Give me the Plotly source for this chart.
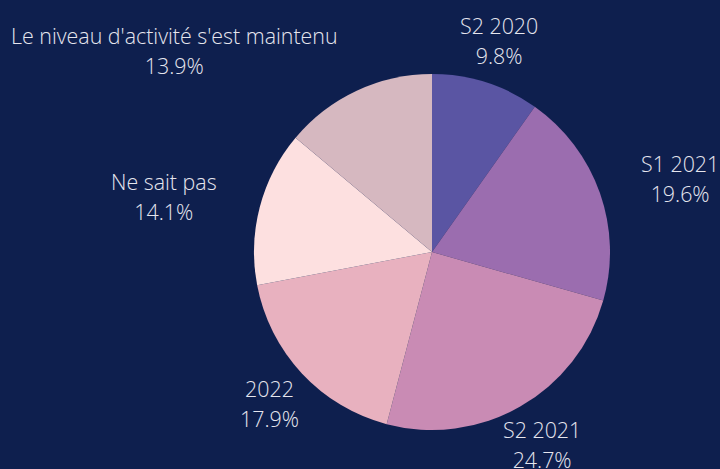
import math
import plotly.graph_objects as go

labels = ["S2 2020", "S1 2021", "S2 2021", "2022", "Ne sait pas",
          "Le niveau d'activité s'est maintenu"]
values = [9.8, 19.6, 24.7, 17.9, 14.1, 13.9]
colors = ["#5a55a3", "#9b6daf", "#c98bb4", "#e8b1bf", "#fde0e0", "#d6b8c0"]

W, H = 720, 469
cx, cy = 432, 252       # pie centre (px from top-left)
R = 178                 # pie radius (px)
R_LAB = 222             # radius of the label ring (px)
FS = 21.4               # glyph size
LINE_FS = 23            # sets line spacing (~30px)
TXT = "#e6e6ee"

# approximate Open Sans advance widths (units / 2048) for label fitting
ADV = {" ": 532, "a": 1139, "c": 975, "d": 1255, "e": 1149, "i": 518, "l": 518,
       "m": 1905, "n": 1257, "p": 1255, "s": 977, "t": 723, "u": 1257,
       "v": 1051, "é": 1149, "'": 403, "S": 1122, "L": 1014, "N": 1577,
       ".": 545, "%": 1716}


def text_w(s):
    return sum(ADV.get(ch, 1171) for ch in s) / 2048 * FS * 0.96


def dom(r):
    yb = H - cy
    return dict(x=[(cx - r) / W, (cx + r) / W], y=[(yb - r) / H, (yb + r) / H])


def box_hits_pie(x0, x1, y0, y1):
    nx = min(max(cx, x0), x1)
    ny = min(max(cy, y0), y1)
    return math.hypot(nx - cx, ny - cy) < R


fig = go.Figure()
fig.add_trace(go.Pie(
    labels=labels, values=values, sort=False, direction="clockwise", rotation=0,
    marker=dict(colors=colors, line=dict(width=0)),
    textinfo="none", domain=dom(R), showlegend=False, hoverinfo="label+percent",
))

total = sum(values)
cum = 0.0
annotations = []
for lab, v in zip(labels, values):
    pct = v / total * 100
    mid = (cum + v / 2) / total * 2 * math.pi
    cum += v
    s, c = math.sin(mid), math.cos(mid)
    px, py = cx + s * R_LAB, cy - c * R_LAB
    pct_txt = f"{pct:.1f}%"
    w = max(text_w(lab), text_w(pct_txt))
    hh = 26
    if abs(s) > 0.8 or box_hits_pie(px - w / 2, px + w / 2, py - hh, py + hh):
        xanchor = "left" if s > 0 else "right"
    else:
        xanchor = "center"
    txt = (f"<span style='font-size:{FS}px'>{lab}</span><br>"
           f"<span style='font-size:{FS}px'>{pct_txt}</span>")
    annotations.append(dict(
        x=px / W, y=1 - py / H, xref="paper", yref="paper",
        xanchor=xanchor, yanchor="middle", align="center",
        text=txt, showarrow=False, borderpad=0, borderwidth=0,
        font=dict(family="Open Sans", size=LINE_FS, color=TXT, weight=300),
    ))

fig.update_layout(
    width=W, height=H, margin=dict(l=0, r=0, t=0, b=0),
    paper_bgcolor="#0e1f4e", plot_bgcolor="#0e1f4e",
    font=dict(family="Open Sans", size=20, color=TXT, weight=300),
    annotations=annotations,
)
fig.write_html("out.html", config={"responsive": False, "displayModeBar": False},
               post_script="document.body.style.margin='0';document.body.style.overflow='hidden';")
